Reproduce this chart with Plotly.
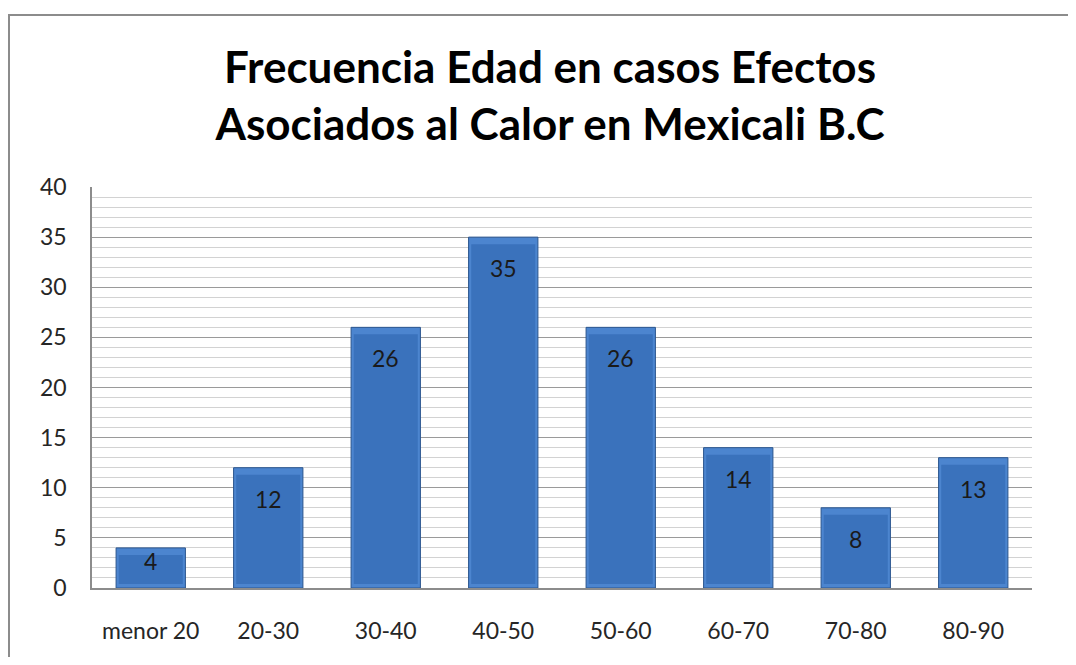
import plotly.graph_objects as go

categories = ["menor 20", "20-30", "30-40", "40-50", "50-60", "60-70", "70-80", "80-90"]
values = [4, 12, 26, 35, 26, 14, 8, 13]
y_ticks = [0, 5, 10, 15, 20, 25, 30, 35, 40]
title_text = "Frecuencia Edad en casos Efectos<br>Asociados al Calor en Mexicali B.C"

FONT = "Lato"
OFF = 8  # page body margin
W, H = 1076 - 2 * OFF, 665 - 2 * OFF
ML, MT = 92 - OFF, 187 - OFF
MR = W - (1032 - OFF)
MB = H - (588 - OFF)
plot_h = H - MT - MB
plot_w = W - ML - MR
px_per_unit = plot_h / 40

fig = go.Figure()
# outer bar (bevel edge)
fig.add_trace(go.Bar(
    x=categories, y=values,
    width=0.59,
    marker=dict(color="#4C85CF", line=dict(color="#2A558E", width=1)),
    hoverinfo="x+y", name="Frecuencia",
))
# inner face (bevel effect), derived from the same values
bevel_top = 0.7
bevel_bot = 0.4
fig.add_trace(go.Bar(
    x=categories, y=[v - bevel_top - bevel_bot for v in values],
    base=[bevel_bot] * len(values),
    width=0.545,
    marker=dict(color="#3A72BC", line=dict(width=0)),
    hoverinfo="skip", name="",
))

# data labels inside end
for c, v in zip(categories, values):
    h = v * px_per_unit
    shift = min(31, h / 2 - 7)
    fig.add_annotation(x=c, y=v, text=str(v), showarrow=False,
                       yshift=-shift, yanchor="middle",
                       font=dict(family=FONT, size=23, color="#1a1a1a"))

# outer chart border
fig.add_shape(type="rect", xref="paper", yref="paper",
              x0=(9 - 92) / plot_w, x1=1.2,
              y0=-0.5, y1=1 + (187 - 15) / plot_h,
              line=dict(color="#8c8c8c", width=2), fillcolor="rgba(0,0,0,0)", layer="below")

fig.update_layout(
    width=W, height=H,
    margin=dict(l=ML, r=MR, t=MT, b=MB),
    paper_bgcolor="white", plot_bgcolor="white",
    barmode="overlay",
    title=dict(text=title_text, x=(550 - OFF) / W, xanchor="center", xref="container",
               y=1 - (83 - OFF) / H, yanchor="middle",
               font=dict(family=FONT, size=44, color="black", weight="bold")),
    showlegend=False,
    xaxis=dict(showline=True, linecolor="#8c8c8c", linewidth=1.5,
               tickfont=dict(family=FONT, size=23, color="#262626"),
               ticks="", ticklabelstandoff=22),
    yaxis=dict(range=[0, 40], tickvals=y_ticks, showline=True, linecolor="#8c8c8c", linewidth=1.5,
               showgrid=True, gridcolor="#9a9a9a", gridwidth=1.2,
               minor=dict(dtick=1, showgrid=True, gridcolor="#d2d2d2", gridwidth=1),
               tickfont=dict(family=FONT, size=23, color="#262626"),
               ticks="", ticklabelstandoff=19, zeroline=False),
)

fig.write_html("out.html")
